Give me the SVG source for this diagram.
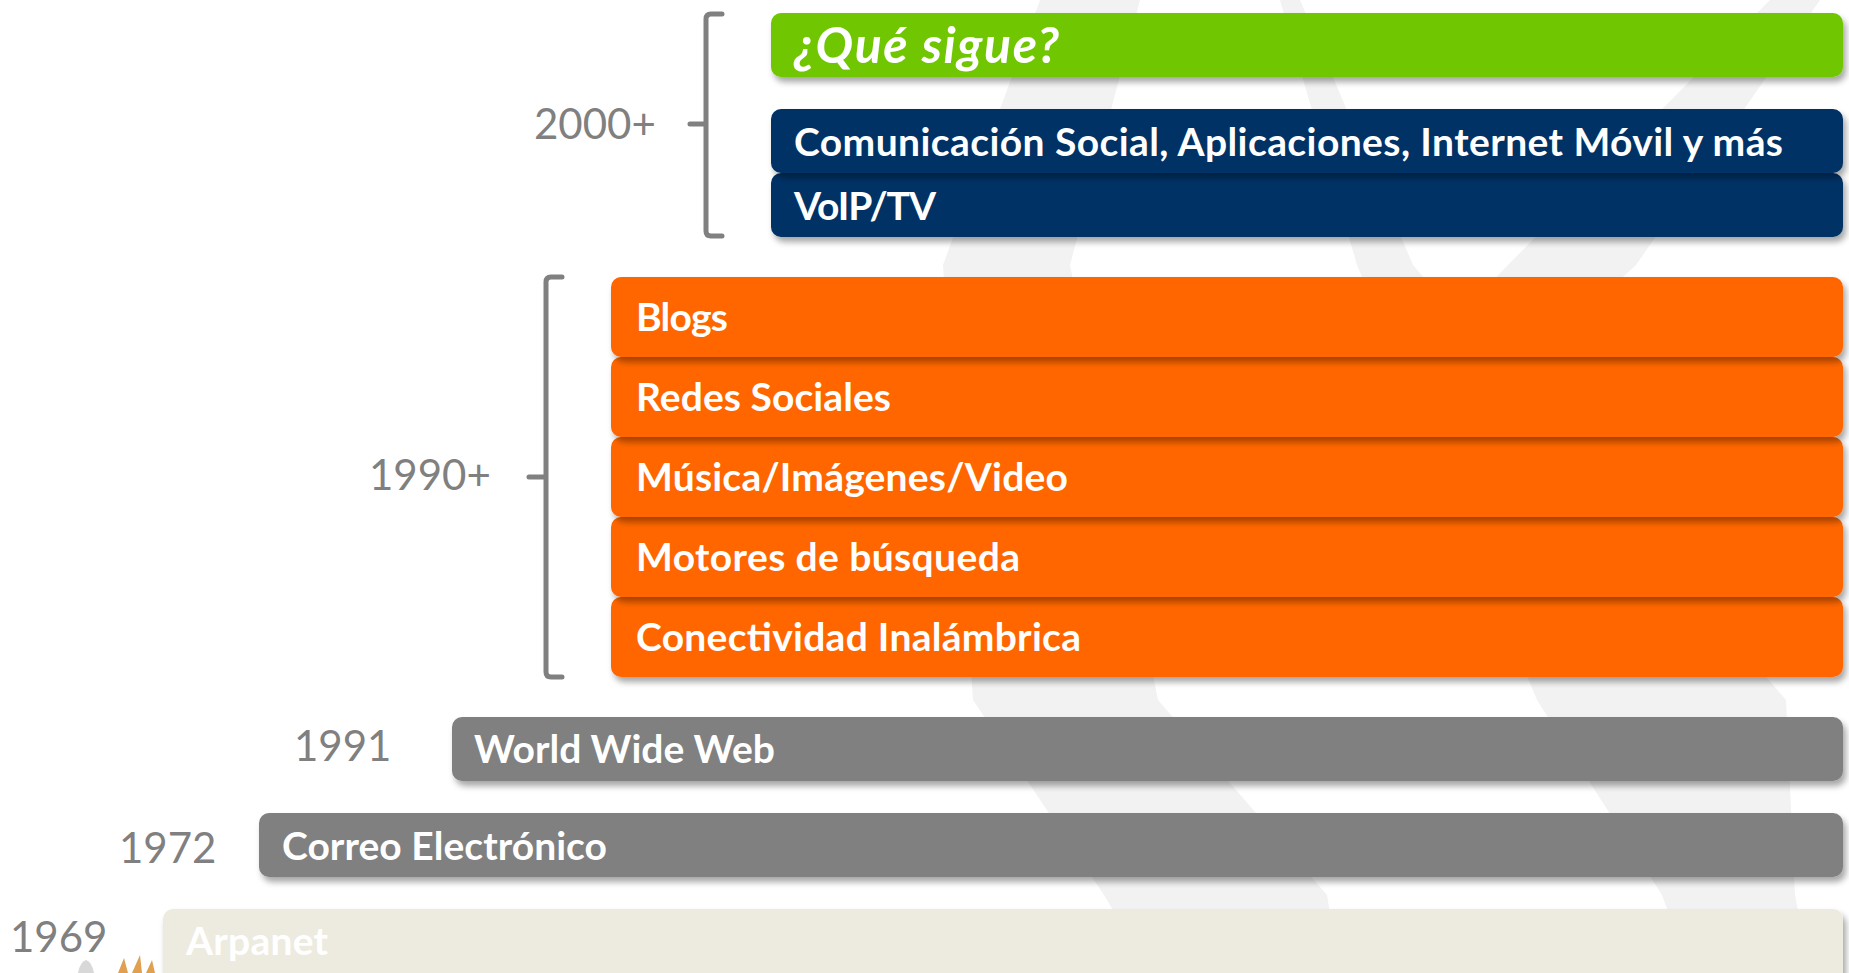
<svg xmlns="http://www.w3.org/2000/svg" width="1849" height="973" viewBox="0 0 1849 973">
<defs>
<filter id="sh" x="-5%" y="-30%" width="110%" height="170%">
<feDropShadow dx="3" dy="5" stdDeviation="3" flood-color="#000" flood-opacity="0.35"/>
</filter>
<style>
.lbl{font-family:Lato,'Liberation Sans',sans-serif;font-weight:700;font-size:39px;fill:#ffffff}
.qs{font-family:Lato,'Liberation Sans',sans-serif;font-weight:700;font-style:italic;font-size:50px;fill:#ffffff}
.yr{font-family:Lato,'Liberation Sans',sans-serif;font-weight:400;font-size:42px;fill:#808080}
.br{fill:none;stroke:#808080;stroke-width:5;stroke-linecap:round;stroke-linejoin:round}
.bar{filter:url(#sh)}
.wm{fill:#f2f2f2}
</style>
</defs>
<rect width="1849" height="973" fill="#ffffff"/>
<g id="watermark">
<path class="wm" d="M1040,0 L943,265 L973,700 L1104,895 L1150,973 L1340,973 L1327,895 L1158,700 L1070,265 L1140,0 Z"/>
<path class="wm" d="M1280,0 L1357,265 L1537,700 L1662,895 L1690,973 L1810,973 L1795,895 L1786,700 L1413,265 L1300,0 Z"/>
<path class="wm" d="M1770,0 L1508,265 L1300,480 L1400,480 L1636,265 L1820,0 Z"/>
</g>
<g id="decoration">
<path d="M78,973 Q80,962 86,960 Q92,962 94,973 Z" fill="#d8d8d8"/>
<path d="M118,973 L124,958 L128,973 Z M132,973 L140,955 L142,973 Z M146,973 L152,960 L155,973 Z" fill="#e0a050"/>
</g>
<g id="connectors">
<path class="br" d="M722,14 H711 Q706,14 706,19 V231 Q706,236 711,236 H722 M690,124 H706"/>
<path class="br" d="M562,277 H551 Q546,277 546,282 V672 Q546,677 551,677 H562 M529,477 H546"/>
</g>
<g id="y2000"><text class="yr" x="534" y="139">2000+</text></g>
<g id="y1990"><text class="yr" x="369" y="490">1990+</text></g>
<g id="y1991"><text class="yr" x="294" y="761">1991</text></g>
<g id="y1972"><text class="yr" x="119" y="863">1972</text></g>
<g id="y1969"><text class="yr" x="10" y="952">1969</text></g>
<g id="arpanet">
<rect class="bar" x="163" y="909" width="1680" height="80" rx="10" fill="#edebe0"/>
<text class="lbl" x="186" y="955" textLength="142">Arpanet</text>
</g>
<g id="correo">
<rect class="bar" x="259" y="813" width="1584" height="64" rx="10" fill="#808080"/>
<text class="lbl" x="282" y="860" textLength="325">Correo Electrónico</text>
</g>
<g id="www">
<rect class="bar" x="452" y="717" width="1391" height="64" rx="10" fill="#808080"/>
<text class="lbl" x="474" y="763" textLength="301">World Wide Web</text>
</g>
<g id="conectividad">
<rect class="bar" x="611" y="597" width="1232" height="80" rx="10" fill="#ff6600"/>
<text class="lbl" x="636" y="651" textLength="445">Conectividad Inalámbrica</text>
</g>
<g id="motores">
<rect class="bar" x="611" y="517" width="1232" height="80" rx="10" fill="#ff6600"/>
<text class="lbl" x="636" y="571" textLength="384">Motores de búsqueda</text>
</g>
<g id="musica">
<rect class="bar" x="611" y="437" width="1232" height="80" rx="10" fill="#ff6600"/>
<text class="lbl" x="636" y="491" textLength="432">Música/Imágenes/Video</text>
</g>
<g id="redes">
<rect class="bar" x="611" y="357" width="1232" height="80" rx="10" fill="#ff6600"/>
<text class="lbl" x="636" y="411" textLength="255">Redes Sociales</text>
</g>
<g id="blogs">
<rect class="bar" x="611" y="277" width="1232" height="80" rx="10" fill="#ff6600"/>
<text class="lbl" x="636" y="331" textLength="92">Blogs</text>
</g>
<g id="voip">
<rect class="bar" x="771" y="173" width="1072" height="64" rx="10" fill="#003366"/>
<text class="lbl" x="794" y="220" textLength="142">VoIP/TV</text>
</g>
<g id="comunicacion">
<rect class="bar" x="771" y="109" width="1072" height="64" rx="10" fill="#003366"/>
<text class="lbl" x="794" y="156" textLength="989">Comunicación Social, Aplicaciones, Internet Móvil y más</text>
</g>
<g id="quesigue">
<rect class="bar" x="771" y="13" width="1072" height="64" rx="10" fill="#70c600"/>
<text class="qs" x="794" y="63" textLength="265">¿Qué sigue?</text>
</g>
</svg>
